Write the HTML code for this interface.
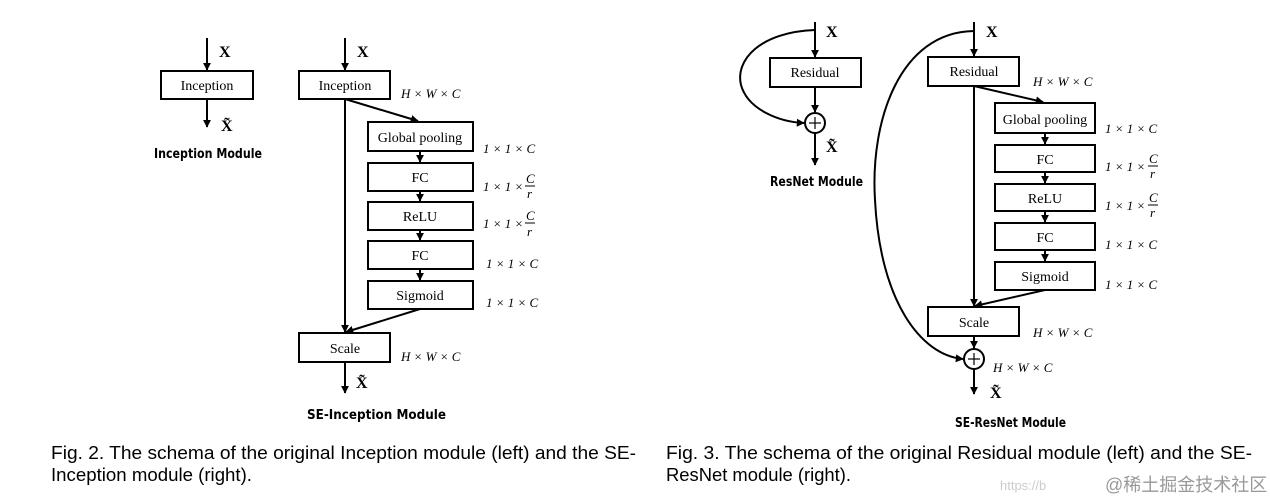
<!DOCTYPE html>
<html><head><meta charset="utf-8"><style>
html,body{margin:0;padding:0;background:#fff;}
svg{display:block}
.b{fill:#fff;stroke:#000;stroke-width:2}
.l{stroke:#000;stroke-width:2;fill:none}
.t{font-family:"Liberation Serif",serif;font-size:14px;text-anchor:middle}
.x{font-family:"Liberation Serif",serif;font-size:16px;font-weight:bold}
.m{font-family:"Liberation Serif",serif;font-size:13px;font-style:italic}
.n{font-family:"DejaVu Sans","Liberation Sans",sans-serif;font-size:13px;font-weight:bold}
.c{font-family:"Liberation Sans",sans-serif;font-size:18.5px}
</style></head><body>
<svg width="1270" height="500" viewBox="0 0 1270 500" xmlns="http://www.w3.org/2000/svg">
<defs><marker id="a" viewBox="0 0 10 10" refX="9" refY="5" markerWidth="4" markerHeight="4" orient="auto"><path d="M0,0 L10,5 L0,10 z" fill="#000"/></marker></defs>

<!-- Inception module -->
<line class="l" x1="207" y1="38" x2="207" y2="70" marker-end="url(#a)"/>
<rect class="b" x="161" y="71" width="92" height="28"/>
<text class="t" x="207" y="90">Inception</text>
<line class="l" x1="207" y1="99" x2="207" y2="127" marker-end="url(#a)"/>
<text class="x" x="219" y="57">X</text>
<text class="x" x="221" y="131">X̃</text>
<text class="n" x="154" y="158" textLength="108" lengthAdjust="spacingAndGlyphs">Inception Module</text>

<!-- SE-Inception -->
<line class="l" x1="345" y1="38" x2="345" y2="70" marker-end="url(#a)"/>
<text class="x" x="357" y="57">X</text>
<rect class="b" x="299" y="71" width="91" height="28"/>
<text class="t" x="345" y="90">Inception</text>
<text class="m" x="401" y="98">H × W × C</text>
<line class="l" x1="345" y1="99" x2="345" y2="332" marker-end="url(#a)"/>
<line class="l" x1="345" y1="99" x2="418" y2="121" marker-end="url(#a)"/>
<rect class="b" x="368" y="122" width="105" height="29"/>
<text class="t" x="420" y="142">Global pooling</text>
<line class="l" x1="420" y1="151" x2="420" y2="162" marker-end="url(#a)"/>
<rect class="b" x="368" y="163" width="105" height="28"/>
<text class="t" x="420" y="182">FC</text>
<line class="l" x1="420" y1="191" x2="420" y2="201" marker-end="url(#a)"/>
<rect class="b" x="368" y="202" width="105" height="28"/>
<text class="t" x="420" y="221">ReLU</text>
<line class="l" x1="420" y1="230" x2="420" y2="240" marker-end="url(#a)"/>
<rect class="b" x="368" y="241" width="105" height="28"/>
<text class="t" x="420" y="260">FC</text>
<line class="l" x1="420" y1="269" x2="420" y2="280" marker-end="url(#a)"/>
<rect class="b" x="368" y="281" width="105" height="28"/>
<text class="t" x="420" y="300">Sigmoid</text>
<line class="l" x1="420" y1="309" x2="346" y2="332" marker-end="url(#a)"/>
<rect class="b" x="299" y="333" width="91" height="29"/>
<text class="t" x="345" y="353">Scale</text>
<text class="m" x="401" y="361">H × W × C</text>
<line class="l" x1="345" y1="362" x2="345" y2="393" marker-end="url(#a)"/>
<text class="x" x="356" y="388">X̃</text>
<text class="m" x="483" y="153">1 × 1 × C</text>
<text class="m" x="483" y="191">1 × 1 ×</text>
<text class="m" x="526" y="183">C</text><line x1="525" y1="186" x2="535" y2="186" stroke="#000"/><text class="m" x="527" y="198">r</text>
<text class="m" x="483" y="228">1 × 1 ×</text>
<text class="m" x="526" y="220">C</text><line x1="525" y1="223" x2="535" y2="223" stroke="#000"/><text class="m" x="527" y="236">r</text>
<text class="m" x="486" y="268">1 × 1 × C</text>
<text class="m" x="486" y="307">1 × 1 × C</text>
<text class="n" x="307" y="419" textLength="139" lengthAdjust="spacingAndGlyphs">SE-Inception Module</text>

<!-- ResNet module -->
<line class="l" x1="815" y1="22" x2="815" y2="57" marker-end="url(#a)"/>
<text class="x" x="826" y="37">X</text>
<rect class="b" x="770" y="58" width="91" height="29"/>
<text class="t" x="815" y="77">Residual</text>
<line class="l" x1="815" y1="87" x2="815" y2="112" marker-end="url(#a)"/>
<circle cx="815" cy="123" r="10" fill="#fff" stroke="#000" stroke-width="2"/>
<line x1="809" y1="123" x2="821" y2="123" stroke="#000" stroke-width="1.2"/><line x1="815" y1="117" x2="815" y2="129" stroke="#000" stroke-width="1.2"/>
<path class="l" d="M815,30 C760,32 735,60 741,85 C748,110 780,122 804,123" marker-end="url(#a)"/>
<line class="l" x1="815" y1="133" x2="815" y2="165" marker-end="url(#a)"/>
<text class="x" x="826" y="152">X̃</text>
<text class="n" x="770" y="186" textLength="93" lengthAdjust="spacingAndGlyphs">ResNet Module</text>

<!-- SE-ResNet -->
<line class="l" x1="974" y1="22" x2="974" y2="56" marker-end="url(#a)"/>
<text class="x" x="986" y="37">X</text>
<path class="l" d="M974,31 C900,32 870,120 875,200 C880,300 920,355 963,359" marker-end="url(#a)"/>
<rect class="b" x="928" y="57" width="91" height="29"/>
<text class="t" x="974" y="76">Residual</text>
<text class="m" x="1033" y="86">H × W × C</text>
<line class="l" x1="974" y1="86" x2="974" y2="306" marker-end="url(#a)"/>
<line class="l" x1="974" y1="86" x2="1043" y2="102" marker-end="url(#a)"/>
<rect class="b" x="995" y="103" width="100" height="30"/>
<text class="t" x="1045" y="124">Global pooling</text>
<line class="l" x1="1045" y1="133" x2="1045" y2="144" marker-end="url(#a)"/>
<rect class="b" x="995" y="145" width="100" height="27"/>
<text class="t" x="1045" y="164">FC</text>
<line class="l" x1="1045" y1="172" x2="1045" y2="183" marker-end="url(#a)"/>
<rect class="b" x="995" y="184" width="100" height="27"/>
<text class="t" x="1045" y="203">ReLU</text>
<line class="l" x1="1045" y1="211" x2="1045" y2="222" marker-end="url(#a)"/>
<rect class="b" x="995" y="223" width="100" height="27"/>
<text class="t" x="1045" y="242">FC</text>
<line class="l" x1="1045" y1="250" x2="1045" y2="261" marker-end="url(#a)"/>
<rect class="b" x="995" y="262" width="100" height="28"/>
<text class="t" x="1045" y="281">Sigmoid</text>
<line class="l" x1="1045" y1="290" x2="975" y2="306" marker-end="url(#a)"/>
<rect class="b" x="928" y="307" width="91" height="29"/>
<text class="t" x="974" y="327">Scale</text>
<text class="m" x="1033" y="337">H × W × C</text>
<line class="l" x1="974" y1="336" x2="974" y2="348" marker-end="url(#a)"/>
<circle cx="974" cy="359" r="10" fill="#fff" stroke="#000" stroke-width="2"/>
<line x1="968" y1="359" x2="980" y2="359" stroke="#000" stroke-width="1.2"/><line x1="974" y1="353" x2="974" y2="365" stroke="#000" stroke-width="1.2"/>
<text class="m" x="993" y="372">H × W × C</text>
<line class="l" x1="974" y1="369" x2="974" y2="394" marker-end="url(#a)"/>
<text class="x" x="990" y="398">X̃</text>
<text class="m" x="1105" y="133">1 × 1 × C</text>
<text class="m" x="1105" y="171">1 × 1 ×</text>
<text class="m" x="1149" y="163">C</text><line x1="1148" y1="166" x2="1158" y2="166" stroke="#000"/><text class="m" x="1150" y="178">r</text>
<text class="m" x="1105" y="210">1 × 1 ×</text>
<text class="m" x="1149" y="202">C</text><line x1="1148" y1="205" x2="1158" y2="205" stroke="#000"/><text class="m" x="1150" y="217">r</text>
<text class="m" x="1105" y="249">1 × 1 × C</text>
<text class="m" x="1105" y="289">1 × 1 × C</text>
<text class="n" x="955" y="427" textLength="111" lengthAdjust="spacingAndGlyphs">SE-ResNet Module</text>

<!-- captions -->
<text class="c" x="51" y="459" textLength="585" lengthAdjust="spacingAndGlyphs">Fig. 2. The schema of the original Inception module (left) and the SE-</text>
<text class="c" x="51" y="481" textLength="201" lengthAdjust="spacingAndGlyphs">Inception module (right).</text>
<text class="c" x="666" y="459" textLength="586" lengthAdjust="spacingAndGlyphs">Fig. 3. The schema of the original Residual module (left) and the SE-</text>
<text class="c" x="666" y="481" textLength="185" lengthAdjust="spacingAndGlyphs">ResNet module (right).</text>
<text x="1000" y="490" font-family="Liberation Sans,sans-serif" font-size="13" fill="#ccc">https://b</text>
<text x="1105" y="491" font-family="Liberation Sans,'Noto Sans CJK SC',sans-serif" font-size="18" fill="#999">@稀土掘金技术社区</text>
</svg>
</body></html>
